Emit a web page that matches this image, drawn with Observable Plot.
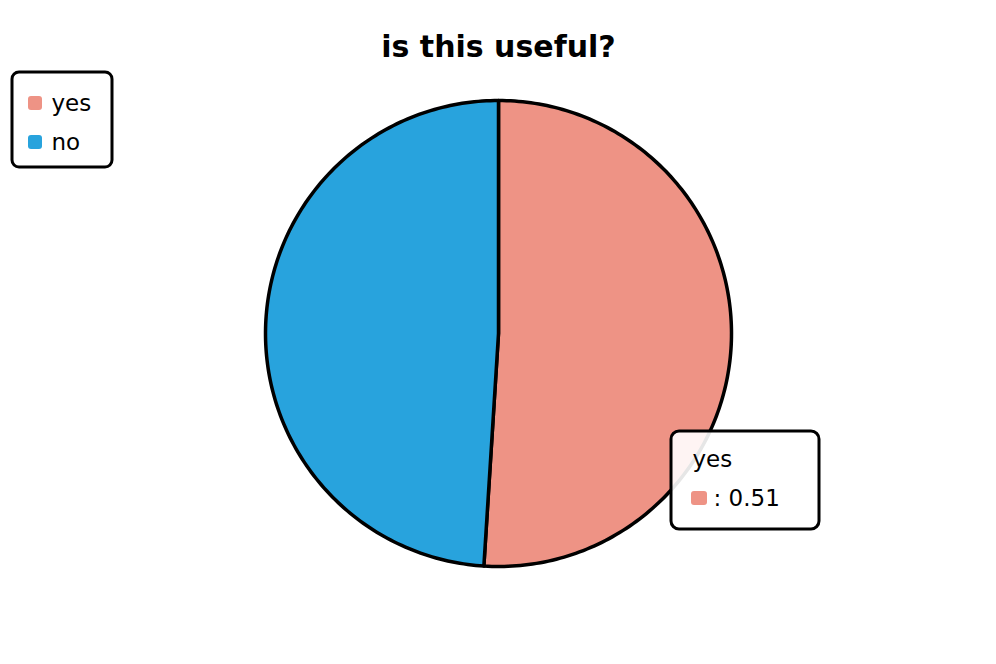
<!DOCTYPE html>
<html>
<head>
<meta charset="utf-8">
<script src="https://cdn.jsdelivr.net/npm/d3@7"></script>
<script src="https://cdn.jsdelivr.net/npm/@observablehq/plot@0.6"></script>
<style>
  html, body { margin: 0; padding: 0; background: #fff; }
  #chart svg { display: block; }
</style>
</head>
<body>
<div id="chart"></div>
<script>
const title = "is this useful?";
const labels = ["yes", "no"];
const values = [0.51, 0.49];
const colors = ["#ee9385", "#28a3dd"];
const tooltipLabel = "yes";
const tooltipValue = 0.51;

const W = 996, H = 664;
const cx = 498, cy = 333, R = 233;
const font = "'DejaVu Sans', sans-serif";

const arcs = d3.pie().sort(null)(values);
const slices = [];
arcs.forEach((a, i) => {
  slices.push({label: labels[i], x: cx, y: cy});
  const n = Math.max(2, Math.ceil((a.endAngle - a.startAngle) / (Math.PI / 180)));
  for (let k = 0; k <= n; k++) {
    const t = a.startAngle + (a.endAngle - a.startAngle) * k / n;
    slices.push({label: labels[i], x: cx + R * Math.sin(t), y: cy - R * Math.cos(t)});
  }
});

const legendRows = labels.map((l, i) => ({label: l, y: 103 + i * 39}));

const chart = Plot.plot({
  width: W, height: H,
  margin: 0,
  x: {type: "identity", axis: null},
  y: {type: "identity", axis: null},
  color: {domain: labels, range: colors},
  style: {fontFamily: font},
  marks: [
    Plot.line(slices, {x: "x", y: "y", z: "label", fill: "label", stroke: "black", strokeWidth: 3.5, strokeLinejoin: "round", curve: "linear-closed"}),
    Plot.text([title], {x: () => W / 2, y: () => 47, text: d => d, fontSize: 30, fontWeight: "bold", fill: "black"}),
    // legend
    Plot.rect([0], {x1: () => 12, x2: () => 112, y1: () => 72, y2: () => 167, rx: 7, fill: "white", stroke: "black", strokeWidth: 3}),
    Plot.rect(legendRows, {x1: () => 28, x2: () => 42, y1: d => d.y - 7, y2: d => d.y + 7, rx: 3, fill: "label"}),
    Plot.text(legendRows, {x: () => 51, y: "y", text: "label", fontSize: 23, textAnchor: "start", fill: "black"}),
    // tooltip
    Plot.rect([0], {x1: () => 671, x2: () => 819, y1: () => 431, y2: () => 529, rx: 8, fill: "white", fillOpacity: 0.9, stroke: "black", strokeWidth: 3}),
    Plot.text([tooltipLabel], {x: () => 692, y: () => 459, text: d => d, fontSize: 23, textAnchor: "start", fill: "black"}),
    Plot.rect([tooltipLabel], {x1: () => 691, x2: () => 707, y1: () => 491, y2: () => 505, rx: 3, fill: d => d}),
    Plot.text([tooltipValue], {x: () => 713, y: () => 498, text: d => ": " + d, fontSize: 23, textAnchor: "start", fill: "black"})
  ]
});
document.getElementById("chart").appendChild(chart);
</script>
</body>
</html>
